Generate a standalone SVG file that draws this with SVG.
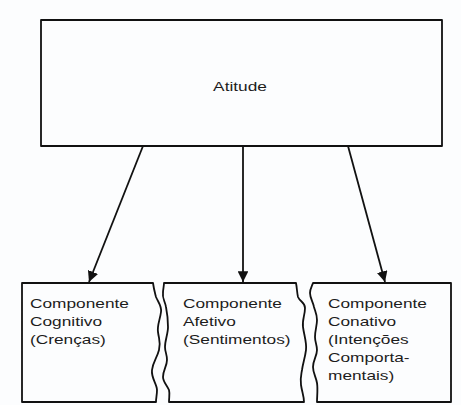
<svg xmlns="http://www.w3.org/2000/svg" width="461" height="405" viewBox="0 0 461 405">
  <defs>
    <style>
      .box { fill: #fcfdfe; stroke: #111; stroke-width: 1.8; stroke-linejoin: round; }
      .lbl { font-family: "Liberation Sans", Arial, sans-serif; font-size: 13px; fill: #1c1c1c; }
      .conn { stroke: #111; stroke-width: 1.8; fill: none; marker-end: url(#arrow); }
    </style>
    <marker id="arrow" viewBox="0 0 10 10" refX="10" refY="5" markerWidth="6" markerHeight="6" markerUnits="strokeWidth" orient="auto">
      <path d="M0,0 L10,5 L0,10 Z" fill="#111"/>
    </marker>
  </defs>

  <rect width="461" height="405" fill="#fcfdfe"/>

  <!-- top node -->
  <g id="atitude">
    <rect class="box" x="41" y="20" width="401" height="126"/>
    <g transform="translate(240,0) scale(1.33,1)">
      <text class="lbl" x="0" y="91" text-anchor="middle">Atitude</text>
    </g>
  </g>

  <!-- connectors -->
  <g id="connectors">
    <line class="conn" x1="143" y1="146" x2="89" y2="282"/>
    <line class="conn" x1="243" y1="146" x2="243" y2="282"/>
    <line class="conn" x1="348" y1="146" x2="385" y2="282"/>
  </g>

  <!-- component nodes with torn edges -->
  <g id="cognitivo">
    <path class="box" d="M22,283 H153 C154,290 155,293 156,297 C158,302 162,306 161,312 C160,320 157,325 158,332 C159,340 161,342 159,350 C157,358 153,362 152,370 C151,378 157,384 157,390 C157,395 156,398 156,402 H22 Z"/>
    <g transform="translate(30,0) scale(1.33,1)">
      <text class="lbl" x="0" y="308">Componente</text>
      <text class="lbl" x="0" y="326">Cognitivo</text>
      <text class="lbl" x="0" y="344">(Crenças)</text>
    </g>
  </g>

  <g id="afetivo">
    <path class="box" d="M164,283 H296 C297,288 297,293 298,297 C300,302 305,302 305,308 C305,315 302,320 303,327 C304,335 307,343 306,350 C305,358 303,363 302,370 C301,376 300,379 301,385 C302,392 304,396 304,402 H169 C169,397 170,394 169,390 C167,385 163,382 163,377 C163,370 167,366 167,360 C167,354 165,352 165,347 C165,340 168,334 168,327 C168,318 167,312 166,307 C165,301 162,298 163,293 C163,289 164,286 164,283 Z"/>
    <g transform="translate(183,0) scale(1.33,1)">
      <text class="lbl" x="0" y="308">Componente</text>
      <text class="lbl" x="0" y="326">Afetivo</text>
      <text class="lbl" x="0" y="344">(Sentimentos)</text>
    </g>
  </g>

  <g id="conativo">
    <path class="box" d="M313,283 H451 V402 H317 C317,396 318,389 317,383 C316,377 313,373 313,367 C313,360 317,356 317,350 C317,345 315,342 315,337 C315,330 317,326 317,320 C317,314 315,311 314,307 C313,302 310,298 310,293 C310,289 312,286 313,283 Z"/>
    <g transform="translate(328,0) scale(1.33,1)">
      <text class="lbl" x="0" y="308">Componente</text>
      <text class="lbl" x="0" y="326">Conativo</text>
      <text class="lbl" x="0" y="344">(Intenções</text>
      <text class="lbl" x="0" y="362">Comporta-</text>
      <text class="lbl" x="0" y="380">mentais)</text>
    </g>
  </g>
</svg>
